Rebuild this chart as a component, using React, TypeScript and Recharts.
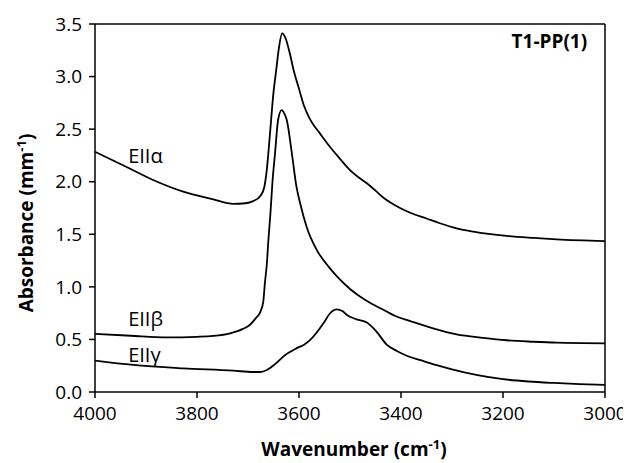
import React from "react";
import { LineChart, Line, XAxis, YAxis, Label, ReferenceDot, ReferenceLine } from "recharts";

const alphaX = [4000, 3940, 3886, 3827, 3768, 3729, 3705, 3690, 3675, 3668, 3663, 3657, 3650, 3645, 3640, 3633, 3626, 3618, 3610, 3601, 3590, 3578, 3559, 3539, 3520, 3500, 3480, 3467, 3450, 3435, 3420, 3400, 3382, 3350, 3324, 3291, 3258, 3193, 3140, 3095, 3000];
const alphaY = [2.285, 2.145, 2.016, 1.905, 1.833, 1.79, 1.795, 1.815, 1.87, 1.95, 2.12, 2.45, 2.85, 3.05, 3.25, 3.41, 3.36, 3.22, 3.05, 2.9, 2.72, 2.59, 2.46, 2.33, 2.22, 2.11, 2.03, 1.985, 1.915, 1.85, 1.8, 1.745, 1.705, 1.65, 1.605, 1.557, 1.525, 1.484, 1.465, 1.452, 1.435];

const betaX = [4000, 3930, 3859, 3800, 3768, 3735, 3710, 3696, 3685, 3676, 3670, 3667, 3663, 3660, 3656, 3652, 3647, 3641, 3634, 3628, 3624, 3614, 3605, 3598, 3585, 3565, 3540, 3520, 3500, 3470, 3450, 3430, 3410, 3382, 3337, 3291, 3239, 3193, 3141, 3095, 3000];
const betaY = [0.552, 0.535, 0.52, 0.525, 0.533, 0.558, 0.6, 0.64, 0.7, 0.76, 0.86, 1.03, 1.22, 1.446, 1.7, 2.0, 2.27, 2.587, 2.68, 2.64, 2.587, 2.27, 1.953, 1.8, 1.57, 1.35, 1.18, 1.07, 0.98, 0.875, 0.82, 0.77, 0.72, 0.675, 0.605, 0.548, 0.515, 0.492, 0.478, 0.469, 0.463];

const gammaX = [4000, 3925, 3827, 3729, 3690, 3676, 3663, 3647, 3627, 3605, 3590, 3578, 3552, 3539, 3526, 3515, 3506, 3487, 3467, 3448, 3428, 3408, 3389, 3360, 3330, 3300, 3250, 3200, 3150, 3100, 3050, 3000];
const gammaY = [0.298, 0.257, 0.225, 0.203, 0.19, 0.19, 0.209, 0.265, 0.352, 0.415, 0.45, 0.495, 0.653, 0.749, 0.786, 0.77, 0.732, 0.691, 0.66, 0.574, 0.45, 0.39, 0.345, 0.3, 0.255, 0.215, 0.16, 0.122, 0.1, 0.086, 0.075, 0.068];

const xTicks = [4000, 3800, 3600, 3400, 3200, 3000];
const yTicks = [0, 0.5, 1, 1.5, 2, 2.5, 3, 3.5];

const seriesNames = ["EII\u03b1", "EII\u03b2", "EII\u03b3"];
const labelAnchors = [
  { x: 3935, y: 2.18 },
  { x: 3935, y: 0.63 },
  { x: 3935, y: 0.29 },
];
const panelTitle = "T1-PP(1)";

const toRows = (xs: number[], ys: number[]) => xs.map((x, i) => ({ x, y: ys[i] }));
const alphaData = toRows(alphaX, alphaY);
const betaData = toRows(betaX, betaY);
const gammaData = toRows(gammaX, gammaY);

const FONT = "'Open Sans', 'DejaVu Sans', sans-serif";

const XTitle = (props: any) => {
  const vb = props.viewBox || {};
  const cx = vb.x + vb.width / 2 + 4;
  return (
    <text x={cx} y={vb.y + 64} textAnchor="middle" fontFamily={FONT} fontWeight="bold" fontSize={19} fill="#000">
      Wavenumber (cm<tspan dy={-7} fontSize={13}>-1</tspan><tspan dy={7}>)</tspan>
    </text>
  );
};

const YTitle = (props: any) => {
  const vb = props.viewBox || {};
  const cy = vb.y + vb.height / 2 + 15;
  const x = 25;
  return (
    <text x={x} y={cy} transform={`rotate(-90, ${x}, ${cy})`} textAnchor="middle" fontFamily={FONT} fontWeight="bold" fontSize={19} fill="#000">
      Absorbance (mm<tspan dy={-7} fontSize={13}>-1</tspan><tspan dy={7}>)</tspan>
    </text>
  );
};

const makeTextLabel = (text: string, bold: boolean, anchor: "start" | "end") => (props: any) => {
  const vb = props.viewBox || {};
  return (
    <text x={vb.x} y={vb.y} textAnchor={anchor} fontFamily={FONT} fontWeight={bold ? "bold" : "normal"} fontSize={bold ? 19 : 20} fill="#000">
      {text}
    </text>
  );
};

export default function App() {
  return (
    <LineChart width={623} height={455} margin={{ top: 16, right: 26, bottom: 8, left: 0 }}>
      <XAxis
        type="number"
        dataKey="x"
        domain={[3000, 4000]}
        reversed
        ticks={xTicks}
        allowDataOverflow
        height={63}
        tickSize={6}
        tickMargin={9}
        stroke="#000"
        strokeWidth={1.5}
        tick={{ fill: "#000", fontSize: 19, fontFamily: FONT }}
        tickLine={{ stroke: "#000", strokeWidth: 1.5 }}
      >
        <Label content={XTitle} />
      </XAxis>
      <YAxis
        type="number"
        dataKey="y"
        domain={[0, 3.5]}
        ticks={yTicks}
        width={87}
        tickSize={6}
        tickMargin={7}
        stroke="#000"
        strokeWidth={1.5}
        tickFormatter={(v: number) => v.toFixed(1)}
        tick={{ fill: "#000", fontSize: 19, fontFamily: FONT }}
        tickLine={{ stroke: "#000", strokeWidth: 1.5 }}
      >
        <Label content={YTitle} />
      </YAxis>
      <ReferenceLine x={3000} stroke="#000" strokeWidth={1.5} />
      <ReferenceLine y={3.5} stroke="#000" strokeWidth={1.5} />
      <Line data={alphaData} dataKey="y" type="monotone" stroke="#000" strokeWidth={1.8} dot={false} isAnimationActive={false} />
      <Line data={betaData} dataKey="y" type="monotone" stroke="#000" strokeWidth={1.8} dot={false} isAnimationActive={false} />
      <Line data={gammaData} dataKey="y" type="monotone" stroke="#000" strokeWidth={1.8} dot={false} isAnimationActive={false} />
      {seriesNames.map((n, i) => (
        <ReferenceDot key={n} x={labelAnchors[i].x} y={labelAnchors[i].y} r={0} fill="none" stroke="none" label={makeTextLabel(n, false, "start")} />
      ))}
      <ReferenceDot x={3035} y={3.27} r={0} fill="none" stroke="none" label={makeTextLabel(panelTitle, true, "end")} />
    </LineChart>
  );
}
